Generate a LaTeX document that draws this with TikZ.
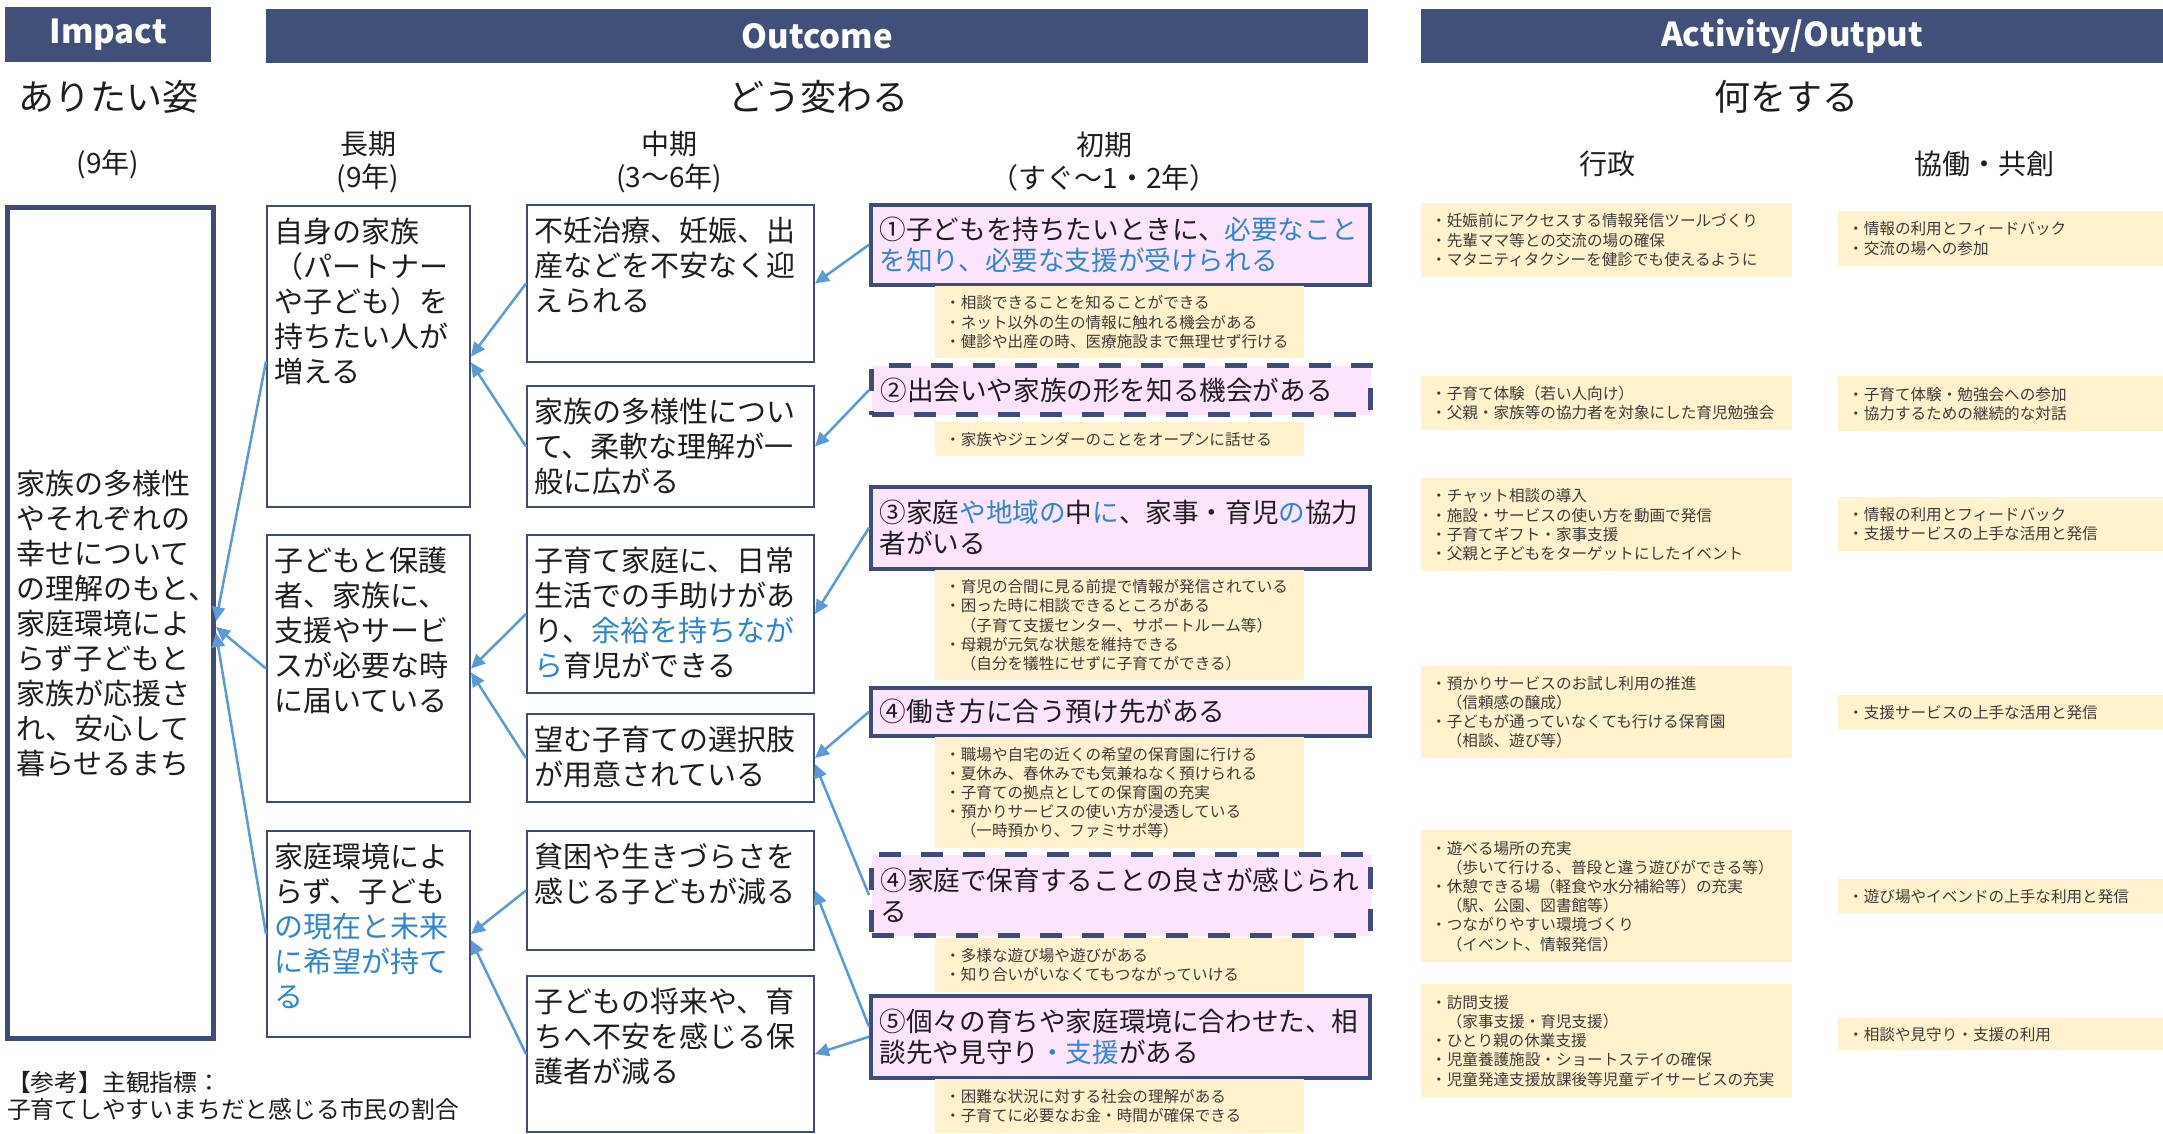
\documentclass[tikz,border=0pt]{standalone}
\usepackage{fontspec}
\setmainfont{Noto Sans CJK JP}
\usetikzlibrary{arrows.meta,calc}
\definecolor{navy}{RGB}{65,80,122}
\definecolor{bnavy}{RGB}{62,76,122}
\definecolor{pinkf}{RGB}{252,228,252}
\definecolor{yel}{RGB}{255,242,204}
\definecolor{tblue}{RGB}{46,134,210}
\definecolor{arrowblue}{RGB}{91,155,213}
\definecolor{ink}{RGB}{30,30,30}
\definecolor{notegray}{RGB}{60,60,60}
\tikzset{
  hdr/.style={fill=navy, text=white, font=\bfseries\fontsize{33}{38}\selectfont, inner sep=0, anchor=north west},
  subbig/.style={text=ink, inner sep=0, font=\fontsize{36}{40}\selectfont},
  subsm/.style={text=ink, inner sep=0, align=center, font=\fontsize{28}{33}\selectfont},
  lmbox/.style={draw=bnavy, line width=2pt, fill=white, inner sep=0, anchor=north west},
  btext/.style={anchor=north west, inner sep=0, align=left, text=ink, font=\fontsize{29}{35}\selectfont},
  ebox/.style={draw=bnavy, line width=3.5pt, fill=pinkf, anchor=north west, inner xsep=9pt, inner ysep=0pt, align=left, text=ink, minimum width=499, text width=481, font=\fontsize{26.6}{31}\selectfont},
  edash/.style={ebox, line width=5pt, dash pattern=on 22pt off 20pt},
  note/.style={fill=yel, anchor=north west, inner xsep=10pt, inner ysep=0pt, align=left, text=notegray, font=\fontsize{15.6}{19.2}\selectfont},
  nmid/.style={note, minimum width=369, text width=349},
  nadm/.style={note, minimum width=371, text width=351},
  ncol/.style={note, minimum width=325, text width=305},
  arr/.style={draw=arrowblue, line width=2.5pt, -{Triangle[length=14pt,width=13pt]}}
}
\begin{document}
\begin{tikzpicture}[x=1pt,y=-1pt]
\useasboundingbox (0,0) rectangle (2163,1133);
\fill[white] (0,0) rectangle (2163,1133);

% headers
\node[hdr, minimum width=206, minimum height=55] (hImp) at (5,7) {Impact};
\node[hdr, minimum width=1102, minimum height=54] (hOut) at (266,9) {Outcome};
\node[hdr, minimum width=742, minimum height=54] (hAct) at (1421,9) {Activity/Output};

% sub headings
\node[subbig] (s1) at (108,97) {ありたい姿};
\node[subbig] (s2) at (818,97) {どう変わる};
\node[subbig] (s3) at (1786,97) {何をする};
\node[subsm] (t0) at (108,164) {(9年)};
\node[subsm] (t1) at (368,162) {長期\\(9年)};
\node[subsm] (t2) at (669,162) {中期\\(3〜6年)};
\node[subsm] (t3) at (1104,162) {初期\\（すぐ〜1・2年）};
\node[subsm] (t4) at (1607,164) {行政};
\node[subsm] (t5) at (1984,164) {協働・共創};

% impact box
\node[draw=bnavy, line width=5pt, fill=white, anchor=north west, minimum width=206, minimum height=831, inner xsep=9pt, inner ysep=0pt, text width=188, align=left, text=ink, font=\fontsize{29}{35}\selectfont] (imp) at (5,205)
{家族の多様性\\やそれぞれの\\幸せについて\\の理解のもと、\\家庭環境によ\\らず子どもと\\家族が応援さ\\れ、安心して\\暮らせるまち};

% long-term boxes
\node[lmbox, minimum width=203, minimum height=301] (L1) at (266,205) {};
\node[btext] (L1t) at ([xshift=8,yshift=-13]L1.north west) {自身の家族\\（パートナー\\や子ども）を\\持ちたい人が\\増える};
\node[lmbox, minimum width=203, minimum height=267] (L2) at (266,534) {};
\node[btext] (L2t) at ([xshift=8,yshift=-13]L2.north west) {子どもと保護\\者、家族に、\\支援やサービ\\スが必要な時\\に届いている};
\node[lmbox, minimum width=203, minimum height=206] (L3) at (266,830) {};
\node[btext] (L3t) at ([xshift=8,yshift=-13]L3.north west) {家庭環境によ\\らず、子ども\\\textcolor{tblue}{の現在と未来}\\\textcolor{tblue}{に希望が持て}\\\textcolor{tblue}{る}};

% mid-term boxes
\node[lmbox, minimum width=287, minimum height=157] (M1) at (526,204) {};
\node[btext] (M1t) at ([xshift=8,yshift=-13]M1.north west) {不妊治療、妊娠、出\\産などを不安なく迎\\えられる};
\node[lmbox, minimum width=287, minimum height=121] (M2) at (526,385) {};
\node[btext] (M2t) at ([xshift=8,yshift=-13]M2.north west) {家族の多様性につい\\て、柔軟な理解が一\\般に広がる};
\node[lmbox, minimum width=287, minimum height=158] (M3) at (526,534) {};
\node[btext] (M3t) at ([xshift=8,yshift=-13]M3.north west) {子育て家庭に、日常\\生活での手助けがあ\\り、\textcolor{tblue}{余裕を持ちなが}\\\textcolor{tblue}{ら}育児ができる};
\node[lmbox, minimum width=287, minimum height=88] (M4) at (526,713) {};
\node[btext] (M4t) at ([xshift=8,yshift=-13]M4.north west) {望む子育ての選択肢\\が用意されている};
\node[lmbox, minimum width=287, minimum height=119] (M5) at (526,830) {};
\node[btext] (M5t) at ([xshift=8,yshift=-13]M5.north west) {貧困や生きづらさを\\感じる子どもが減る};
\node[lmbox, minimum width=287, minimum height=156] (M6) at (526,975) {};
\node[btext] (M6t) at ([xshift=8,yshift=-13]M6.north west) {子どもの将来や、育\\ちへ不安を感じる保\\護者が減る};

% early boxes
\node[ebox, minimum height=80] (E1) at (869,203) {①子どもを持ちたいときに、\textcolor{tblue}{必要なこと}\\\textcolor{tblue}{を知り、必要な支援が受けられる}};
\node[edash, minimum height=49] (E2) at (869,363) {②出会いや家族の形を知る機会がある};
\node[ebox, minimum height=82] (E3) at (869,485) {③家庭\textcolor{tblue}{や地域の}中\textcolor{tblue}{に}、家事・育児\textcolor{tblue}{の}協力\\者がいる};
\node[ebox, minimum height=48] (E4) at (869,686) {④働き方に合う預け先がある};
\node[edash, minimum height=81] (E5) at (869,852) {④家庭で保育することの良さが感じられ\\る};
\node[ebox, minimum height=82] (E6) at (869,994) {⑤個々の育ちや家庭環境に合わせた、相\\談先や見守り\textcolor{tblue}{・支援}がある};

% early notes
\node[nmid, minimum height=72] (N1) at (935,286) {・相談できることを知ることができる\\・ネット以外の生の情報に触れる機会がある\\・健診や出産の時、医療施設まで無理せず行ける};
\node[nmid, minimum height=34] (N2) at (935,422) {・家族やジェンダーのことをオープンに話せる};
\node[nmid, minimum height=110] (N3) at (935,570) {・育児の合間に見る前提で情報が発信されている\\・困った時に相談できるところがある\\　（子育て支援センター、サポートルーム等）\\・母親が元気な状態を維持できる\\　（自分を犠牲にせずに子育てができる）};
\node[nmid, minimum height=111] (N4) at (935,737) {・職場や自宅の近くの希望の保育園に行ける\\・夏休み、春休みでも気兼ねなく預けられる\\・子育ての拠点としての保育園の充実\\・預かりサービスの使い方が浸透している\\　（一時預かり、ファミサポ等）};
\node[nmid, minimum height=54] (N5) at (935,938) {・多様な遊び場や遊びがある\\・知り合いがいなくてもつながっていける};
\node[nmid, minimum height=54] (N6) at (935,1079) {・困難な状況に対する社会の理解がある\\・子育てに必要なお金・時間が確保できる};

% administration activities
\node[nadm, minimum height=74] (A1) at (1421,203) {・妊娠前にアクセスする情報発信ツールづくり\\・先輩ママ等との交流の場の確保\\・マタニティタクシーを健診でも使えるように};
\node[nadm, minimum height=54] (A2) at (1421,376) {・子育て体験（若い人向け）\\・父親・家族等の協力者を対象にした育児勉強会};
\node[nadm, minimum height=93] (A3) at (1421,478) {・チャット相談の導入\\・施設・サービスの使い方を動画で発信\\・子育てギフト・家事支援\\・父親と子どもをターゲットにしたイベント};
\node[nadm, minimum height=92] (A4) at (1421,666) {・預かりサービスのお試し利用の推進\\　（信頼感の醸成）\\・子どもが通っていなくても行ける保育園\\　（相談、遊び等）};
\node[nadm, minimum height=132] (A5) at (1421,830) {・遊べる場所の充実\\　（歩いて行ける、普段と違う遊びができる等）\\・休憩できる場（軽食や水分補給等）の充実\\　（駅、公園、図書館等）\\・つながりやすい環境づくり\\　（イベント、情報発信）};
\node[nadm, minimum height=113] (A6) at (1421,984) {・訪問支援\\　（家事支援・育児支援）\\・ひとり親の休業支援\\・児童養護施設・ショートステイの確保\\・児童発達支援放課後等児童デイサービスの充実};

% co-creation activities
\node[ncol, minimum height=55] (C1) at (1838,211) {・情報の利用とフィードバック\\・交流の場への参加};
\node[ncol, minimum height=55] (C2) at (1838,376) {・子育て体験・勉強会への参加\\・協力するための継続的な対話};
\node[ncol, minimum height=54] (C3) at (1838,497) {・情報の利用とフィードバック\\・支援サービスの上手な活用と発信};
\node[ncol, minimum height=34] (C4) at (1838,695) {・支援サービスの上手な活用と発信};
\node[ncol, minimum height=34] (C5) at (1838,879) {・遊び場やイベンドの上手な利用と発信};
\node[ncol, minimum height=32] (C6) at (1838,1018) {・相談や見守り・支援の利用};

% reference note
\node[anchor=north west, align=left, inner sep=0, text=ink, font=\fontsize{23.8}{27}\selectfont] (refn) at (7,1071) {【参考】主観指標：\\子育てしやすいまちだと感じる市民の割合};

% connectors
\draw[arr] (E1.west) -- (M1.east);
\draw[arr] (E2.west) -- (M2.east);
\draw[arr] (M1.west) -- (L1.east);
\draw[arr] (M2.west) -- ([yshift=-6pt]L1.east);
\draw[arr] (E3.west) -- (M3.east);
\draw[arr] (M3.west) -- (L2.east);
\draw[arr] (M4.west) -- ([yshift=-4pt]L2.east);
\draw[arr] (E4.west) -- (M4.east);
\draw[arr] (E5.west) -- ([yshift=-6pt]M4.east);
\draw[arr] ([yshift=10pt]E6.west) -- (M5.east);
\draw[arr] (E6.west) -- (M6.east);
\draw[arr] (M5.west) -- (L3.east);
\draw[arr] (M6.west) -- ([yshift=-6pt]L3.east);
\draw[arr] ([yshift=-5pt]L1.west) -- ([yshift=2pt]imp.east);
\draw[arr] (L2.west) -- ([yshift=-4pt]imp.east);
\draw[arr] (L3.west) -- ([yshift=-10pt]imp.east);
\end{tikzpicture}
\end{document}
